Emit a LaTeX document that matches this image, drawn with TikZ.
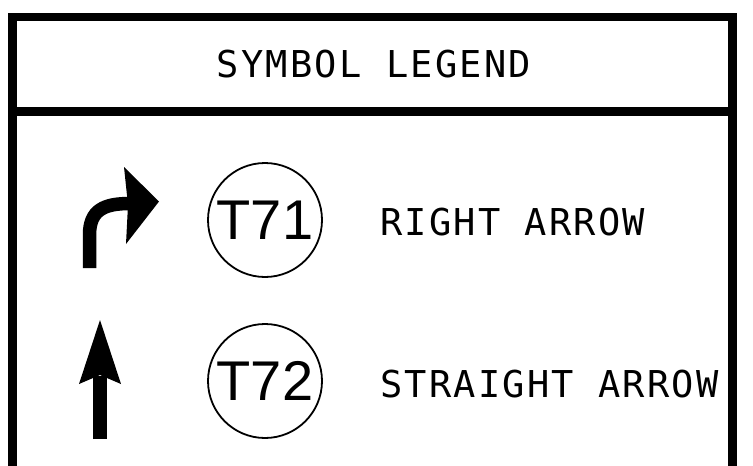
\documentclass[tikz,border=0pt]{standalone}
\usepackage{fontspec}
\usepackage{tikz}
\usetikzlibrary{positioning, shapes.geometric}
\newfontfamily\legendfont[LetterSpace=6]{DejaVu Sans Mono}
\newfontfamily\signfont{Liberation Sans}
\definecolor{ink}{HTML}{000000}

\begin{document}
\begin{tikzpicture}[
    x=1pt, y=-1pt,
    frame/.style={
        draw=ink,
        line width=8.5pt
    },
    label/.style={
        font=\legendfont\fontsize{37}{37}\selectfont,
        inner sep=0pt,
        anchor=base west
    },
    sign/.style={
        circle,
        draw=ink,
        line width=1.8pt,
        minimum size=114pt,
        inner sep=0pt,
        font=\signfont\fontsize{56}{56}\selectfont
    },
    shaft/.style={draw=ink, line width=13.5pt},
    head/.style={fill=ink, draw=none}
]
\useasboundingbox (0,0) rectangle (753,466);

% legend frame
\draw[frame] (12.5,480) -- (12.5,17) -- (732.5,17) -- (732.5,480);
\draw[frame] (12.5,111.5) -- (732.5,111.5);

\node[label, anchor=base] (title) at (374,77) {SYMBOL LEGEND};

% right arrow row
\coordinate (rfoot) at (89.5,268);
\coordinate (rbend) at (89.5,235);
\coordinate (rend) at (130,203.5);
\draw[shaft] (rfoot) -- (rbend) .. controls (89.5,210) and (104,203.5) .. (rend);
\fill[head] (124,167) -- (159,201.5) -- (126,244) -- (128,205) -- cycle;
\node[sign] (t71) at (265,220) {T71};
\node[label] (right) at (380,235) {RIGHT ARROW};

% straight arrow row
\coordinate (sfoot) at (100,439);
\coordinate (send) at (100,376);
\draw[shaft, line width=14pt] (sfoot) -- (send);
\fill[head] (100,320) -- (121,384) -- (100,375) -- (79,384) -- cycle;
\node[sign] (t72) at (265,381) {T72};
\node[label] (straight) at (380,397) {STRAIGHT ARROW};

\end{tikzpicture}
\end{document}
